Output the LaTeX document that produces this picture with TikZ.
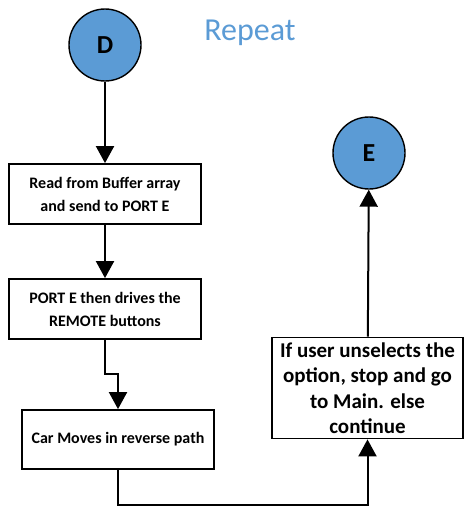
\documentclass[tikz,border=0pt]{standalone}
\usepackage{fontspec}
\setmainfont{Carlito}
\usetikzlibrary{arrows.meta,positioning}
\definecolor{blu}{RGB}{91,155,213}
\tikzset{
  x=1pt, y=-1pt,
  >={Triangle[length=17pt,width=18pt]},
  every node/.style={font=\bfseries},
  term/.style={circle, draw, line width=1.4pt, fill=blu, minimum size=72pt, inner sep=0pt, font=\fontsize{26}{30}\selectfont\bfseries},
  stepbox/.style={draw, line width=1.8pt, minimum width=192pt, minimum height=60pt, align=center, inner sep=0pt, font=\fontsize{16}{23}\selectfont\bfseries},
  arr/.style={->, line width=2pt},
}
\begin{document}
\begin{tikzpicture}
\useasboundingbox (0,0) rectangle (464,506);

% ---------------------------------------------------------------- terminals
\node[term] (d) at (105,45) {D};
\node[term] (e) at (369,153) {E};
\node[font=\fontsize{32}{36}\selectfont, text=blu] (rep) at (250,33) {Repeat};

% ---------------------------------------------------------------- steps
\node[stepbox] (rd) at (105,194) {Read from Buffer array\\and send to PORT E};
\node[stepbox] (drv) at (105,309) {PORT E then drives the\\REMOTE buttons};
\node[stepbox, minimum height=59pt] (mov) at (118,439.5) {Car Moves in reverse path};
\node[stepbox, minimum width=191pt, minimum height=101pt, font=\fontsize{21}{25.5}\selectfont\bfseries] (chk) at (367.5,388) {If user unselects the\\option, stop and go\\to Main. else\\continue};

% ---------------------------------------------------------------- flow
\draw[arr] (d) -- (rd);
\draw[arr] (rd) -- (drv);
\draw[arr] (drv.south) -- ++(0,34) -| (mov.north);
\draw[arr] (mov.south) -- ++(0,35) -| (chk.south);
\draw[arr] (chk) -- (e);

\end{tikzpicture}
\end{document}
